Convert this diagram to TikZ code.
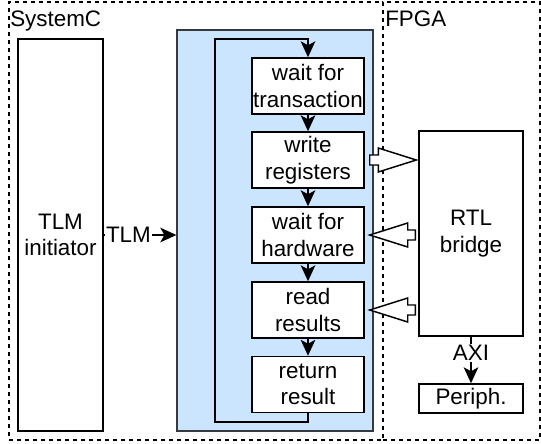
\documentclass[tikz,border=0pt]{standalone}
\usepackage{fontspec}
\setmainfont{Liberation Sans}
\usepackage{tikz}
\usetikzlibrary{calc,arrows.meta}

\definecolor{coreblue}{HTML}{CCE5FF}
\definecolor{coreline}{HTML}{36393D}

% block (hollow) arrow between two points on one horizontal line
\newcommand{\flexarrow}[2]{%
  \draw[flexarr] let \p1=(#1), \p2=(#2), \n1={sign(\x2-\x1)} in
    (\x1,\y1+3.75pt) -- (\x2-\n1*28.5pt,\y1+3.75pt) -- (\x2-\n1*28.5pt,\y1+9pt)
    -- (\x2,\y1) -- (\x2-\n1*28.5pt,\y1-9pt) -- (\x2-\n1*28.5pt,\y1-3.75pt)
    -- (\x1,\y1-3.75pt) -- cycle;}

\tikzset{
  txt/.style={font=\fontsize{16.8}{20}\selectfont, align=center},
  group/.style={draw, line width=0.9pt, dash pattern=on 3pt off 3pt, inner sep=0pt},
  box/.style={txt, draw, line width=1.1pt, fill=white, inner sep=0pt},
  tip/.tip={Stealth[length=12pt,width=11pt,inset=3pt]},
  flow/.style={line width=1.1pt, -tip},
  flexarr/.style={draw, line width=1.1pt, fill=white, line join=miter},
  lbl/.style={txt, fill=white, inner sep=1pt}
}

\begin{document}
\begin{tikzpicture}[x=0.75pt,y=-0.75pt]
\useasboundingbox (0,0) rectangle (541,443);

%-------------------------------------------------------------------
% Outer domains
\node[group, minimum width=280.5pt, minimum height=328.5pt] (sysc) at (196,221) {};
\node[group, minimum width=117.75pt, minimum height=328.5pt] (fpga) at (461.5,221) {};
\node[txt, anchor=base west, inner sep=0pt] (sysclbl) at (10,26) {SystemC};
\node[txt, anchor=base west, inner sep=0pt] (fpgalbl) at (385,26) {FPGA};

%-------------------------------------------------------------------
% SystemC side
\node[box, minimum width=63.75pt, minimum height=294pt] (init) at (60.5,235) {TLM\\initiator};
\node[draw=coreline, fill=coreblue, line width=1pt, minimum width=147pt,
      minimum height=300.75pt, inner sep=0pt] (core) at (275,230.5) {};

% Steps of the loop
\foreach \n/\y/\t in {tx/86/{wait for\\transaction}, wr/160/{write\\registers},
                      hw/235/{wait for\\hardware}, rd/310/{read\\results},
                      ret/384.5/{return\\result}}{
  \node[box, minimum width=84pt, minimum height=42pt] (\n) at (308,\y) {\t};
}
\foreach \a/\b in {tx/wr, wr/hw, hw/rd, rd/ret}{
  \draw[flow] (\a.south) -- (\b.north);
}

% Loop back
\coordinate (lpt) at (215,39);
\coordinate (lpb) at (215,422);
\draw[flow] (ret.south) |- (lpb) -- (lpt) -| (tx.north);

% TLM link
\draw[flow] (init.east) -- (init.east -| core.west)
  node[lbl, pos=0.34] (tlmlbl) {TLM};

%-------------------------------------------------------------------
% FPGA side
\node[box, minimum width=78pt, minimum height=153.75pt] (rtl) at (471,233.5) {RTL\\bridge};
\node[box, minimum width=78pt, minimum height=21.75pt] (periph) at (471,398.5) {Periph.};
\draw[flow] (rtl.south) -- (periph.north) node[lbl, pos=0.35] (axilbl) {AXI};

% Register traffic
\coordinate (a1s) at ($(wr.east)+(5,0)$);
\coordinate (a1e) at ($(rtl.west |- wr.east)+(-2,0)$);
\coordinate (a2s) at ($(rtl.west |- hw.east)+(-3,0)$);
\coordinate (a2e) at ($(hw.east)+(5,0)$);
\coordinate (a3s) at ($(rtl.west |- rd.east)+(-3,0)$);
\coordinate (a3e) at ($(rd.east)+(5,0)$);
\flexarrow{a1s}{a1e}
\flexarrow{a2s}{a2e}
\flexarrow{a3s}{a3e}

\end{tikzpicture}
\end{document}
